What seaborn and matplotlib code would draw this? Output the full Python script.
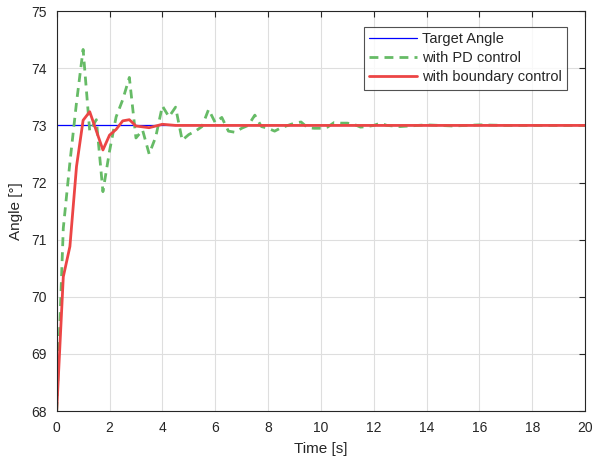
import numpy as np
import pandas as pd
import seaborn as sns
import matplotlib.pyplot as plt

# target angle
target_t = [0, 20]
target_angle = [73, 73]

# PD control response
pd_t = [0, 0.25, 0.5, 0.75, 1.0, 1.25, 1.5, 1.75, 2.0, 2.25, 2.5, 2.75, 3.0, 3.25,
        3.5, 3.75, 4.0, 4.25, 4.5, 4.75, 5.0, 5.25, 5.5, 5.75, 6.0, 6.25, 6.5, 6.75,
        7.0, 7.25, 7.5, 7.75, 8.0, 8.25, 8.5, 8.75, 9.0, 9.25, 9.5, 9.75, 10.0, 10.25,
        10.5, 10.75, 11.0, 11.25, 11.5, 11.75, 12.0, 12.25, 12.5, 12.75, 13.0,
        14.0, 15.0, 16.0, 17.0, 18.0, 20.0]
pd_angle = [68.0, 71.2, 72.35, 73.4, 74.33, 72.9, 73.1, 71.84, 72.55, 73.15, 73.45, 73.84,
            72.78, 72.92, 72.5, 72.8, 73.34, 73.15, 73.32, 72.74, 72.84, 72.9, 72.98, 73.28,
            73.05, 73.14, 72.9, 72.88, 72.95, 73.0, 73.18, 72.98, 72.95, 72.9, 72.96, 73.0,
            73.04, 73.06, 72.96, 72.95, 72.95, 72.97, 73.05, 73.04, 73.04, 73.02, 72.97,
            72.98, 73.0, 73.04, 73.0, 72.99, 72.98, 73.01, 72.99, 73.01, 73.0, 73.0, 73.0]

# boundary control response
bc_t = [0, 0.25, 0.5, 0.75, 1.0, 1.25, 1.75, 2.0, 2.25, 2.5, 2.75, 3.0, 3.5, 4.0, 4.5, 20.0]
bc_angle = [68.0, 70.35, 70.88, 72.28, 73.09, 73.24, 72.57, 72.83, 72.93, 73.08, 73.1,
            72.99, 72.96, 73.02, 73.0, 73.0]

sns.set_style("white")
plt.rcParams['font.family'] = ['Liberation Sans', 'DejaVu Sans']

fig = plt.figure(figsize=(5.93, 4.66), dpi=100)
ax = fig.add_axes([0.0956, 0.118, 0.891, 0.858])

sns.lineplot(x=target_t, y=target_angle, ax=ax, color='#0000ff', linewidth=0.9,
             label='Target Angle')
sns.lineplot(x=pd_t, y=pd_angle, ax=ax, color='#66bb66', linewidth=2.0,
             linestyle=(0, (3.2, 2.2)), label='with PD control')
sns.lineplot(x=bc_t, y=bc_angle, ax=ax, color='#ec4545', linewidth=2.0,
             label='with boundary control')

ax.set_xlim(0, 20)
ax.set_ylim(68, 75)
ax.set_xticks(range(0, 21, 2))
ax.set_yticks(range(68, 76))
ax.grid(True, color='#dedede', linewidth=0.8)
ax.set_axisbelow(True)
for s in ax.spines.values():
    s.set_color('#262626')
    s.set_linewidth(0.8)
ax.tick_params(direction='in', top=True, right=True, length=4, width=0.8,
               colors='#262626', labelsize=10, labelcolor='#262626')
ax.tick_params(axis='x', pad=7)
ax.tick_params(axis='y', pad=7)
ax.set_xlabel('Time [s]', fontsize=11, color='#262626', labelpad=5)
ax.set_ylabel('Angle [°]', fontsize=11, color='#262626', labelpad=6)

leg = ax.legend(loc='upper right', bbox_to_anchor=(0.965, 0.96), fontsize=10.5,
                frameon=True, fancybox=False, handlelength=3.3, borderpad=0.35,
                labelspacing=0.35, handletextpad=0.3, borderaxespad=0)
leg.get_frame().set_edgecolor('#262626')
leg.get_frame().set_linewidth(0.8)

fig.savefig('out.png', dpi=100)
